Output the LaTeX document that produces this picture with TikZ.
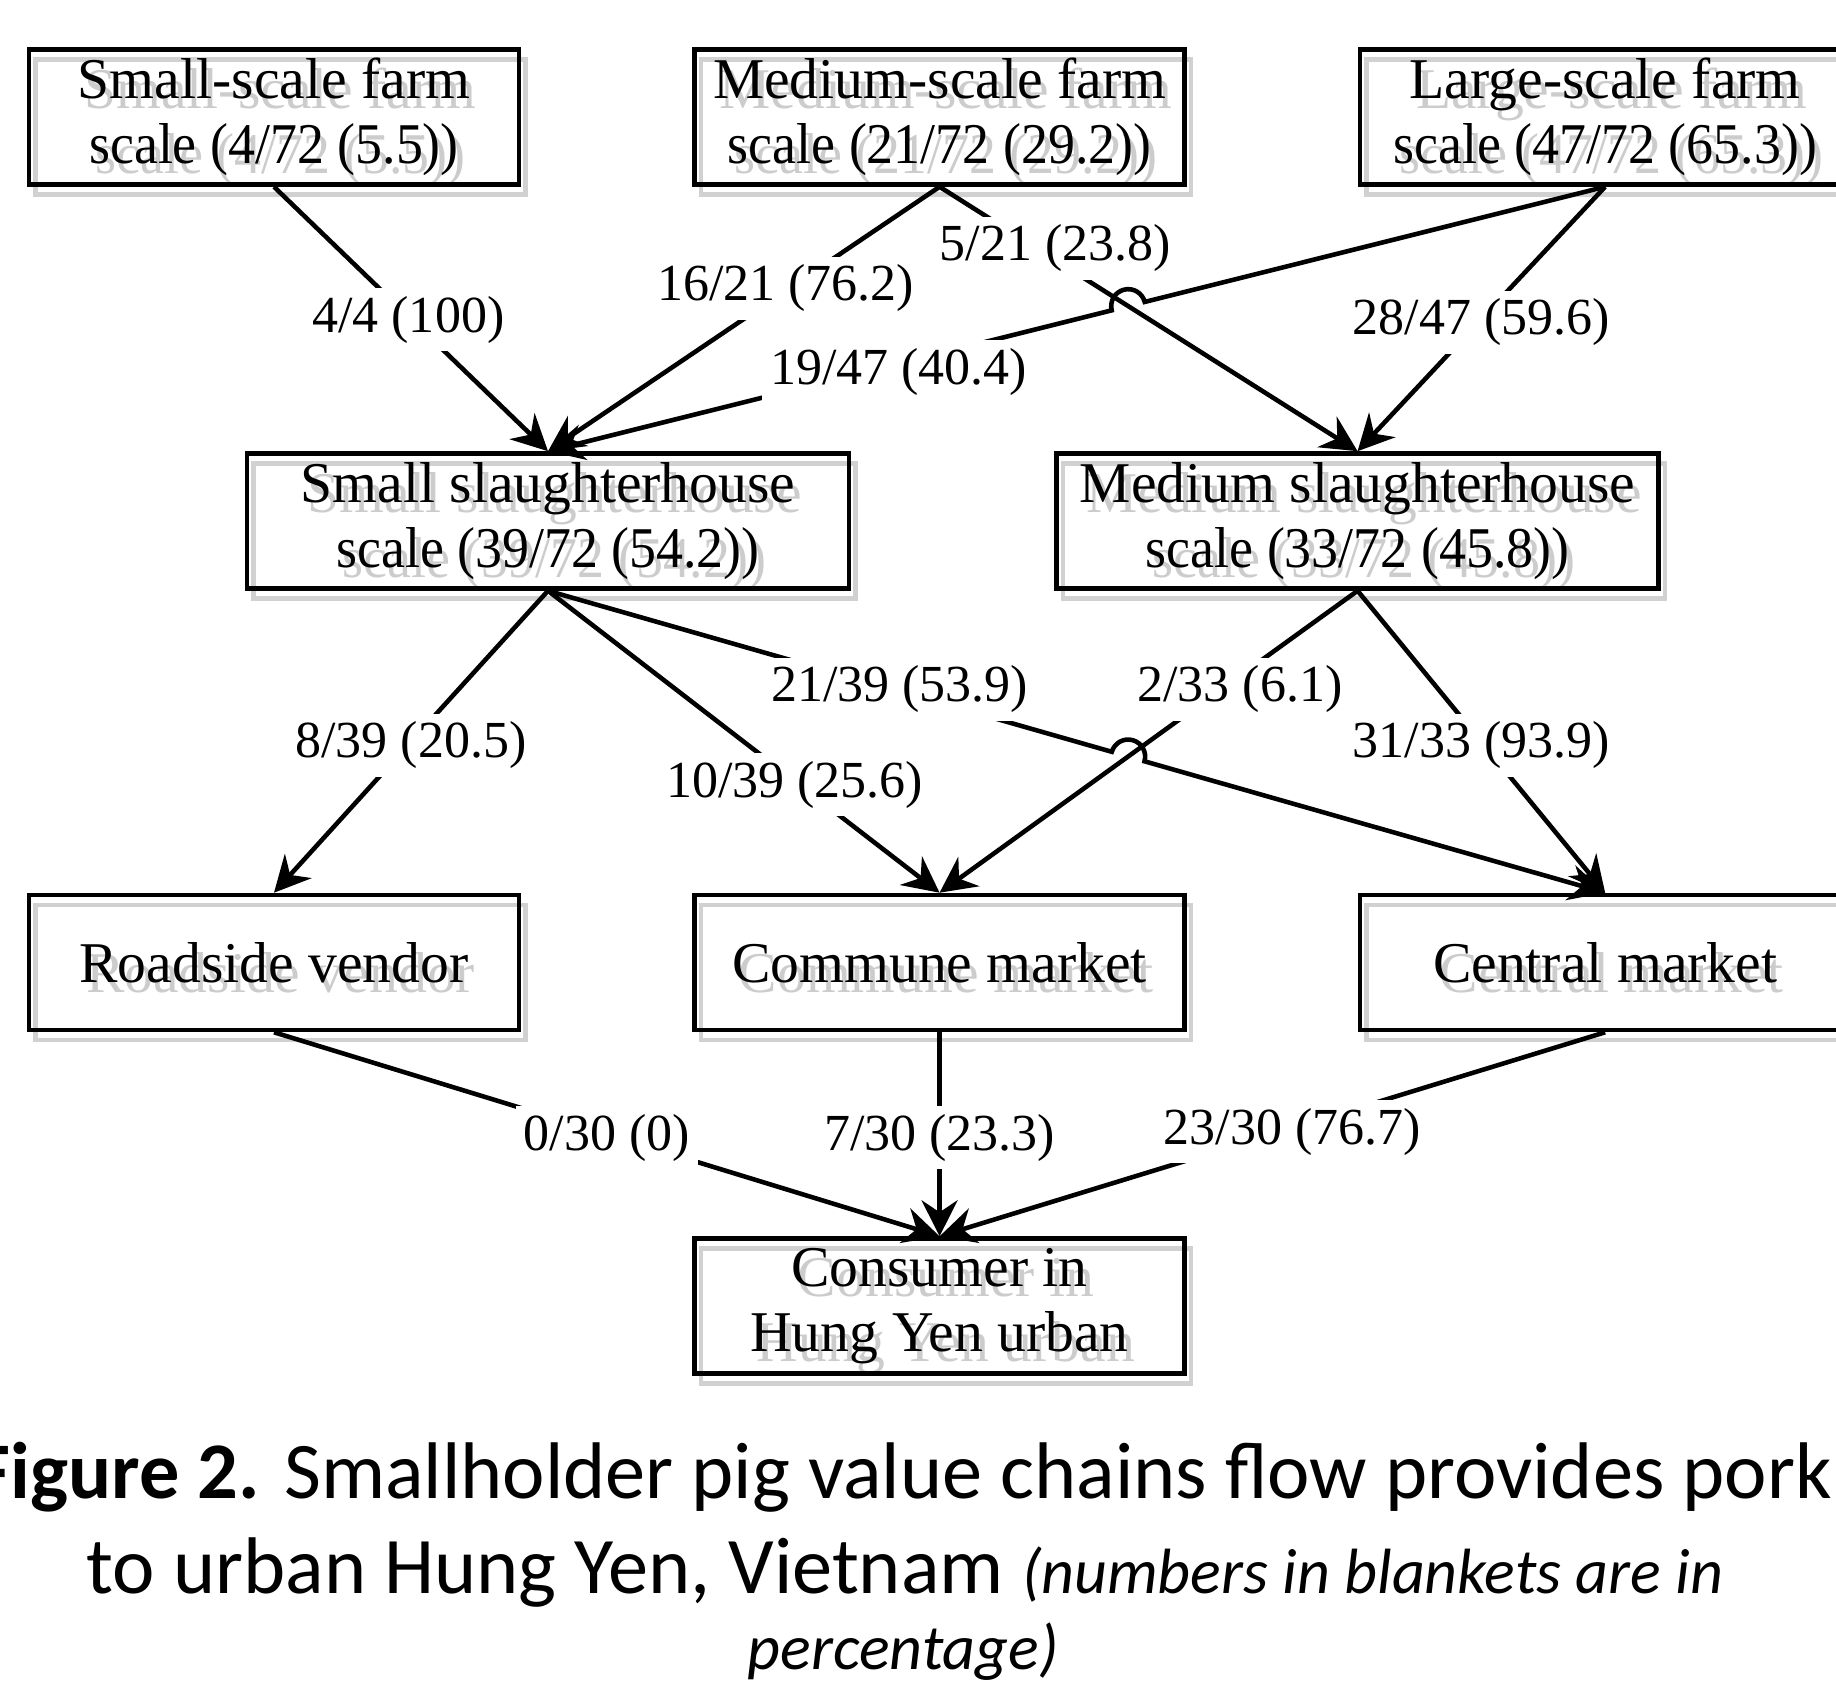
\documentclass[tikz,border=0pt]{standalone}
\usepackage{fontspec}
\setmainfont{Liberation Serif}
\newfontfamily\slimfont[FakeStretch=0.935]{Liberation Serif}
\newfontfamily\capfont{Carlito}
\usetikzlibrary{arrows.meta,positioning,calc,backgrounds,intersections}

\begin{document}
\begin{tikzpicture}[
        stage/.style={draw, line width=1.3pt, rectangle, align=center, inner sep=2pt,
            minimum width=4.9cm, minimum height=1.35cm,
            font=\fontsize{16.4pt}{18.4pt}\selectfont},
        wide/.style={stage, minimum width=6.02cm},
        ghost/.style={draw=black!18, text=black!20},
        flow/.style={line width=1.3pt, -{Stealth[length=0.36cm, width=0.36cm, inset=0.12cm]}},
        share/.style={fill=white, inner sep=0.08cm, yshift=-0.035cm, font=\fontsize{14.8pt}{17pt}\selectfont},
        caption/.style={anchor=base, font=\capfont\fontsize{22.85pt}{27pt}\selectfont},
        node distance=1.71cm
    ]
    \useasboundingbox (0,0) rectangle (18.36,16.94);

    % farms
    \node[stage] (sf) at (2.74,15.77) {Small-scale farm\\{\slimfont scale (4/72 (5.5))}};
    \node[stage, right=of sf] (mf) {Medium-scale farm\\{\slimfont scale (21/72 (29.2))}};
    \node[stage, right=of mf] (lf) {Large-scale farm\\{\slimfont scale (47/72 (65.3))}};

    % slaughterhouses
    \node[wide] (ss) at (5.48,11.73) {Small slaughterhouse\\{\slimfont scale (39/72 (54.2))}};
    \node[wide, right=2.03cm of ss] (ms) {Medium slaughterhouse\\{\slimfont scale (33/72 (45.8))}};

    % markets and consumer
    \node[stage] (rv) at (2.74,7.315) {Roadside vendor};
    \node[stage, right=of rv] (cm) {Commune market};
    \node[stage, right=of cm] (ct) {Central market};
    \node[stage, below=2.04cm of cm] (co) {Consumer in\\Hung Yen urban};

    % grey copies behind the boxes
    \begin{scope}[on background layer]
        \foreach \nm/\bw/\tx in {
            sf/4.9/{Small-scale farm\\{\slimfont scale (4/72 (5.5))}},
            mf/4.9/{Medium-scale farm\\{\slimfont scale (21/72 (29.2))}},
            lf/4.9/{Large-scale farm\\{\slimfont scale (47/72 (65.3))}},
            ss/6.02/{Small slaughterhouse\\{\slimfont scale (39/72 (54.2))}},
            ms/6.02/{Medium slaughterhouse\\{\slimfont scale (33/72 (45.8))}},
            rv/4.9/{Roadside vendor},
            cm/4.9/{Commune market},
            ct/4.9/{Central market},
            co/4.9/{Consumer in\\Hung Yen urban}}
            \node[stage, ghost, minimum width=\bw cm] at ($(\nm)+(0.065,-0.1)$) {\tx};
    \end{scope}

    % farm -> slaughterhouse
    \draw[flow] (sf.south) -- node[share, pos=0.49] {4/4 (100)} (ss.north);
    \draw[flow] (mf.south) -- node[share, pos=0.37, xshift=-0.09cm] {16/21 (76.2)} (ss.north);
    \draw[flow] (mf.south) -- node[share, pos=0.22, xshift=0.24cm] {5/21 (23.8)} (ms.north);
    \draw[flow] (lf.south) -- node[share, pos=0.5] {28/47 (59.6)} (ms.north);

    \path[name path=p1] (mf.south) -- (ms.north);
    \path[name path=p2] (lf.south) -- (ss.north);
    \path[name intersections={of=p1 and p2, by=j1}];
    \draw[flow] (lf.south) -- ($(j1)!0.17cm!(lf.south)$)
        arc[start angle=14.3, end angle=194.3, radius=0.17cm]
        -- node[share, pos=0.41, xshift=0.18cm] {19/47 (40.4)} (ss.north);

    % slaughterhouse -> market
    \draw[flow] (ss.south) -- node[share, pos=0.5] {8/39 (20.5)} (rv.north);
    \draw[flow] (ss.south) -- node[share, pos=0.63] {10/39 (25.6)} (cm.north);
    \draw[flow] (ms.south) -- node[share, pos=0.315, xshift=0.14cm] {2/33 (6.1)} (cm.north);
    \draw[flow] (ms.south) -- node[share, pos=0.5] {31/33 (93.9)} (ct.north);

    \path[name path=p3] (ms.south) -- (cm.north);
    \path[name path=p4] (ss.south) -- (ct.north);
    \path[name intersections={of=p3 and p4, by=j2}];
    \draw[flow] (ss.south) -- node[share, pos=0.59, xshift=0.19cm] {21/39 (53.9)}
        ($(j2)!0.17cm!(ss.south)$)
        arc[start angle=163.8, end angle=-16.2, radius=0.17cm] -- (ct.north);

    % market -> consumer
    \draw[flow] (rv.south) -- node[share, pos=0.5] {0/30 (0)} (co.north);
    \draw[flow] (cm.south) -- node[share, pos=0.5] {7/30 (23.3)} (co.north);
    \draw[flow] (ct.south) -- node[share, pos=0.47] {23/30 (76.7)} (co.north);

    % caption
    \node[caption] (cap1) at (9.03,1.96) {\textbf{Figure 2.} Smallholder pig value chains flow provides pork};
    \node[caption] (cap2) at (9.05,1.01) {to urban Hung Yen, Vietnam {\itshape\fontsize{18.2pt}{21pt}\selectfont (numbers in blankets are in}};
    \node[caption] (cap3) at (9.03,0.25) {\itshape\fontsize{18.2pt}{21pt}\selectfont percentage)};
\end{tikzpicture}
\end{document}
